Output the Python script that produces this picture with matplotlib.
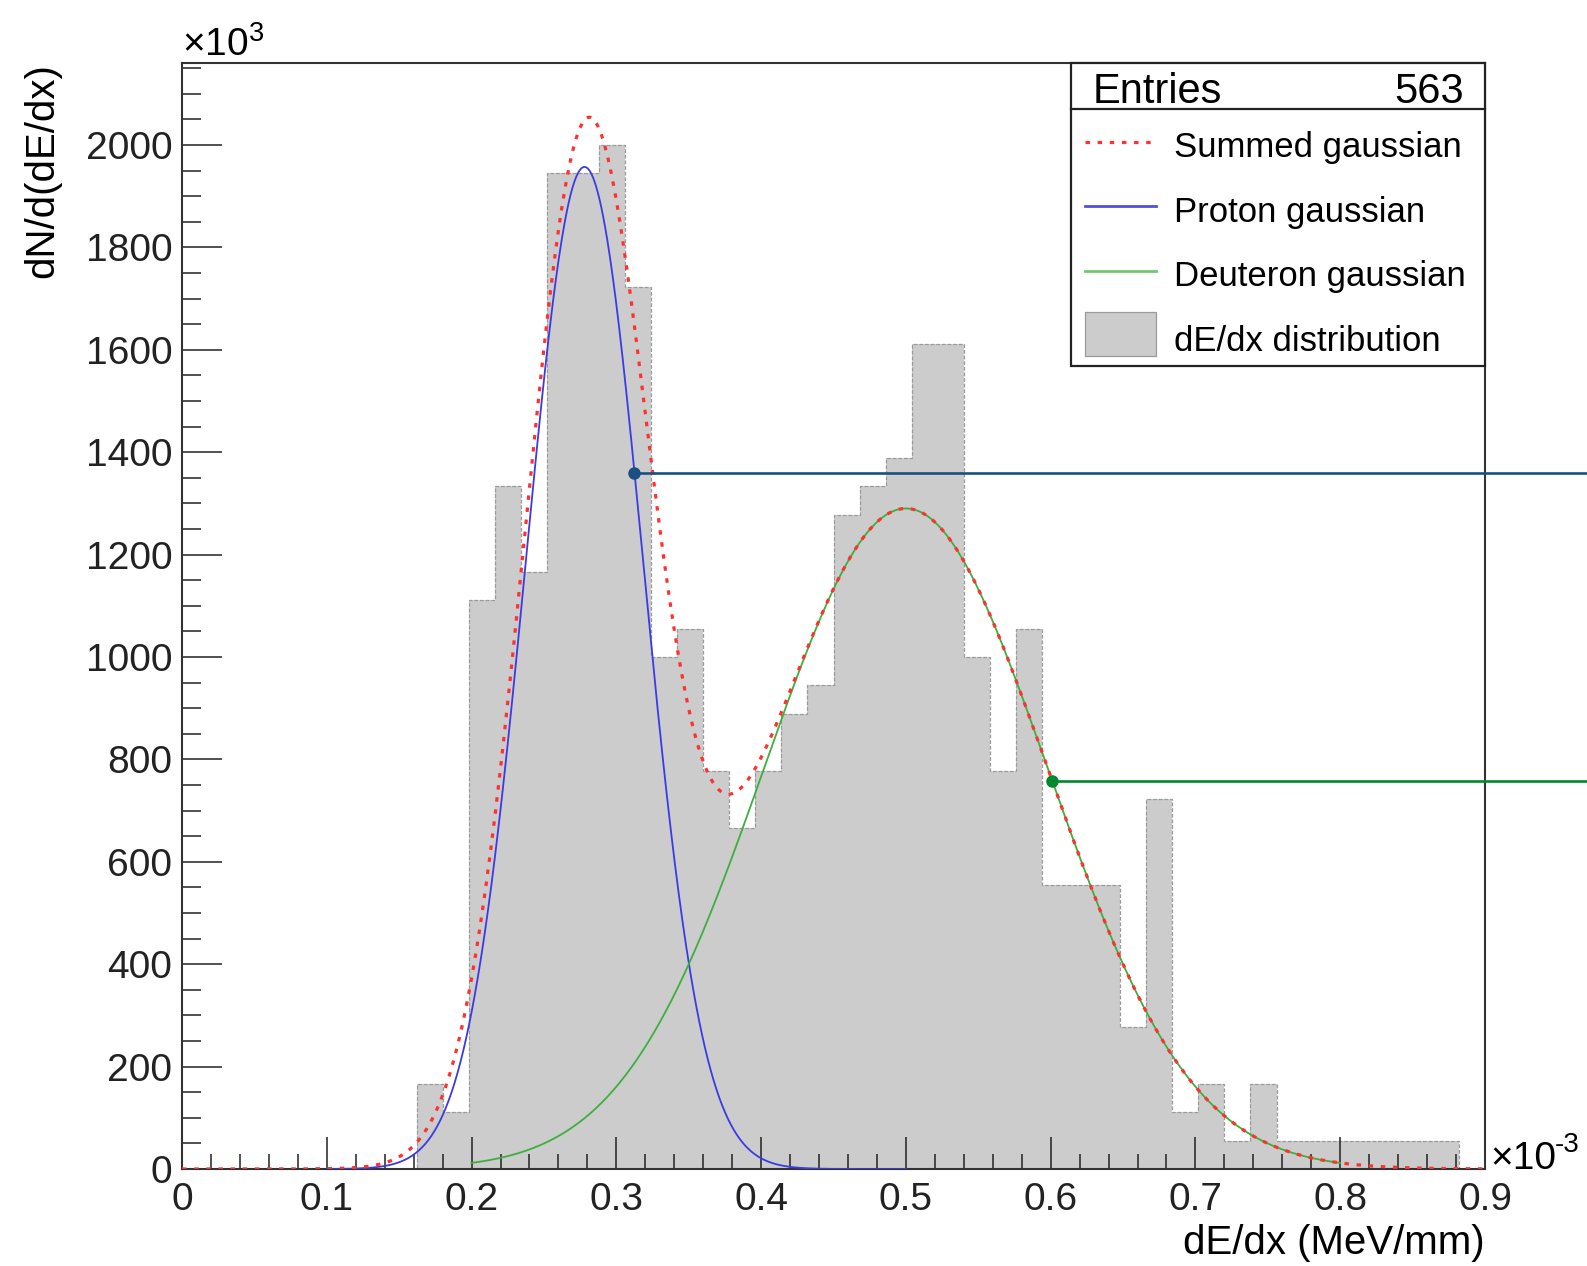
import numpy as np
import matplotlib.pyplot as plt
from matplotlib.patches import Rectangle
from matplotlib.lines import Line2D

plt.rcParams['font.family'] = ['Liberation Sans', 'DejaVu Sans']
plt.rcParams['mathtext.fontset'] = 'custom'
plt.rcParams['mathtext.rm'] = 'Liberation Sans'
plt.rcParams['mathtext.it'] = 'Liberation Sans:italic'

# --- DATA ---
# dE/dx histogram: 50 bins from 0 to 0.9 (x10^-3 MeV/mm), counts per bin
bin_lo, bin_hi, n_bins = 0.0, 0.9, 50
counts = [0, 0, 0, 0, 0, 0, 0, 0, 0, 3,
          2, 20, 24, 21, 35, 35, 36, 31, 18, 19,
          14, 12, 14, 16, 17, 23, 24, 25, 29, 29,
          18, 14, 19, 10, 10, 10, 5, 13, 2, 3,
          1, 3, 1, 1, 1, 1, 1, 1, 1, 0]
entries = 563

# fitted gaussians: amplitude (x10^3), mean, sigma (x10^-3)
proton_fit = [1957, 0.278, 0.0405]
deuteron_fit = [1290, 0.500, 0.098]
summed_fit = [1950, 0.279, 0.043, 1290, 0.500, 0.098]
proton_range = [0.1, 0.5]
deuteron_range = [0.2, 0.8]
summed_range = [0.0, 0.9]

# marked points on the fits
proton_mark = [0.3124, 1359]
deuteron_mark = [0.601, 758]

xticks = [0, 0.1, 0.2, 0.3, 0.4, 0.5, 0.6, 0.7, 0.8, 0.9]
xtick_labels = ['0', '0.1', '0.2', '0.3', '0.4', '0.5', '0.6', '0.7', '0.8', '0.9']
yticks = [0, 200, 400, 600, 800, 1000, 1200, 1400, 1600, 1800, 2000]


def gaus(x, a, mu, s):
    return a * np.exp(-0.5 * ((x - mu) / s) ** 2)


W, H = 1587, 1266
fig = plt.figure(figsize=(W / 100, H / 100), dpi=100)


def fx(px):
    return px / W


def fy(py):
    return 1 - py / H


ax_l, ax_r, ax_t, ax_b = 182, 1485, 63, 1169
ax = fig.add_axes([fx(ax_l), fy(ax_b), fx(ax_r - ax_l), (ax_b - ax_t) / H])

edges = np.linspace(bin_lo, bin_hi, n_bins + 1)
bin_w = edges[1] - edges[0]
density = np.array(counts) / bin_w

ax.stairs(density, edges, fill=True, color='#cccccc', zorder=1)
ax.stairs(density, edges, color='#9a9a9a', lw=0.9, ls=(0, (3, 1.5)), zorder=1.5)

xp = np.linspace(*proton_range, 600)
ax.plot(xp, gaus(xp, *proton_fit), color='#3a3ae6', lw=1.3, zorder=3)
xd = np.linspace(*deuteron_range, 600)
ax.plot(xd, gaus(xd, *deuteron_fit), color='#3cb03c', lw=1.3, zorder=3)
xs = np.linspace(*summed_range, 900)
ax.plot(xs, gaus(xs, *summed_fit[:3]) + gaus(xs, *summed_fit[3:]),
        color='#ff3030', lw=2.3, ls=(0, (1.4, 2.4)), zorder=4)

# marker lines running out to the right edge of the picture
for (mx, my), c in [(proton_mark, '#1b4f82'), (deuteron_mark, '#00882c')]:
    ax.plot([mx, 1.2], [my, my], color=c, lw=1.9, clip_on=False, zorder=5)
    ax.plot([mx], [my], 'o', color=c, ms=8, clip_on=False, zorder=6)

ax.set_xlim(0, 0.9)
ax.set_ylim(0, 2160)
ax.set_xticks(xticks)
ax.set_xticklabels(xtick_labels)
ax.set_xticks(np.arange(0, 0.9001, 0.02), minor=True)
ax.set_yticks(yticks)
ax.set_yticks(np.arange(0, 2160, 50), minor=True)

ax.tick_params(which='both', direction='in', top=False, right=False,
               colors='#222222', width=1.1)
ax.tick_params(axis='x', which='major', length=23, labelsize=28, pad=9)
ax.tick_params(axis='x', which='minor', length=11)
ax.tick_params(axis='y', which='major', length=29, labelsize=28, pad=7)
ax.tick_params(axis='y', which='minor', length=14)
for sp in ax.spines.values():
    sp.set_linewidth(1.5)
    sp.set_color('#333333')

ax.set_ylabel('dN/d(dE/dx)', fontsize=29)
ax.yaxis.set_label_coords((42 - ax_l) / (ax_r - ax_l), 1.0)
ax.yaxis.label.set(ha='center', va='top', rotation_mode='default')
ax.set_xlabel('dE/dx (MeV/mm)', fontsize=29)
ax.xaxis.set_label_coords(1.0, (ax_b - 1243) / (ax_b - ax_t))
ax.xaxis.label.set(ha='right', va='center')

# axis multipliers
ax.text(0, 1 + 7 / (ax_b - ax_t), r'×10$^{3}$', transform=ax.transAxes,
        fontsize=28, ha='left', va='baseline')
fig.text(fx(1490), fy(ax_b), '×10', fontsize=28, ha='left', va='baseline')
fig.text(fx(1555), fy(ax_b - 17), '-3', fontsize=20, ha='left', va='baseline')

# --- stats + legend box ---
tf = fig.transFigure
lg_l, lg_r, lg_t, lg_b, lg_sep = 1071, 1485, 63, 366, 109
fig.add_artist(Rectangle((fx(lg_l), fy(lg_b)), fx(lg_r - lg_l), (lg_b - lg_t) / H,
                         transform=tf, facecolor='white', edgecolor='#222222',
                         lw=1.6, zorder=10))
fig.add_artist(Line2D([fx(lg_l), fx(lg_r)], [fy(lg_sep), fy(lg_sep)], transform=tf,
                      color='#222222', lw=1.6, zorder=11))
fig.text(fx(1093), fy(103), 'Entries', fontsize=30, ha='left', va='baseline', zorder=12)
fig.text(fx(1464), fy(103), str(entries), fontsize=30, ha='right', va='baseline', zorder=12)

samp_l, samp_r, txt_x = 1085, 1156, 1174
fig.add_artist(Line2D([fx(samp_l), fx(samp_r)], [fy(142), fy(142)], transform=tf,
                      color='#ff3030', lw=2.3, ls=(0, (1.4, 2.4)), zorder=12))
fig.add_artist(Line2D([fx(samp_l), fx(samp_r)], [fy(206), fy(206)], transform=tf,
                      color='#5050e0', lw=2.0, zorder=12))
fig.add_artist(Line2D([fx(samp_l), fx(samp_r)], [fy(271), fy(271)], transform=tf,
                      color='#70c870', lw=2.0, zorder=12))
fig.add_artist(Rectangle((fx(samp_l), fy(356)), fx(samp_r - samp_l), 44 / H, transform=tf,
                         facecolor='#cccccc', edgecolor='#9a9a9a', lw=0.9, zorder=12))
for label, base in [('Summed gaussian', 157), ('Proton gaussian', 222),
                    ('Deuteron gaussian', 286), ('dE/dx distribution', 351)]:
    fig.text(fx(txt_x), fy(base), label, fontsize=25, ha='left', va='baseline', zorder=12)

fig.savefig('out.png', dpi=100)
